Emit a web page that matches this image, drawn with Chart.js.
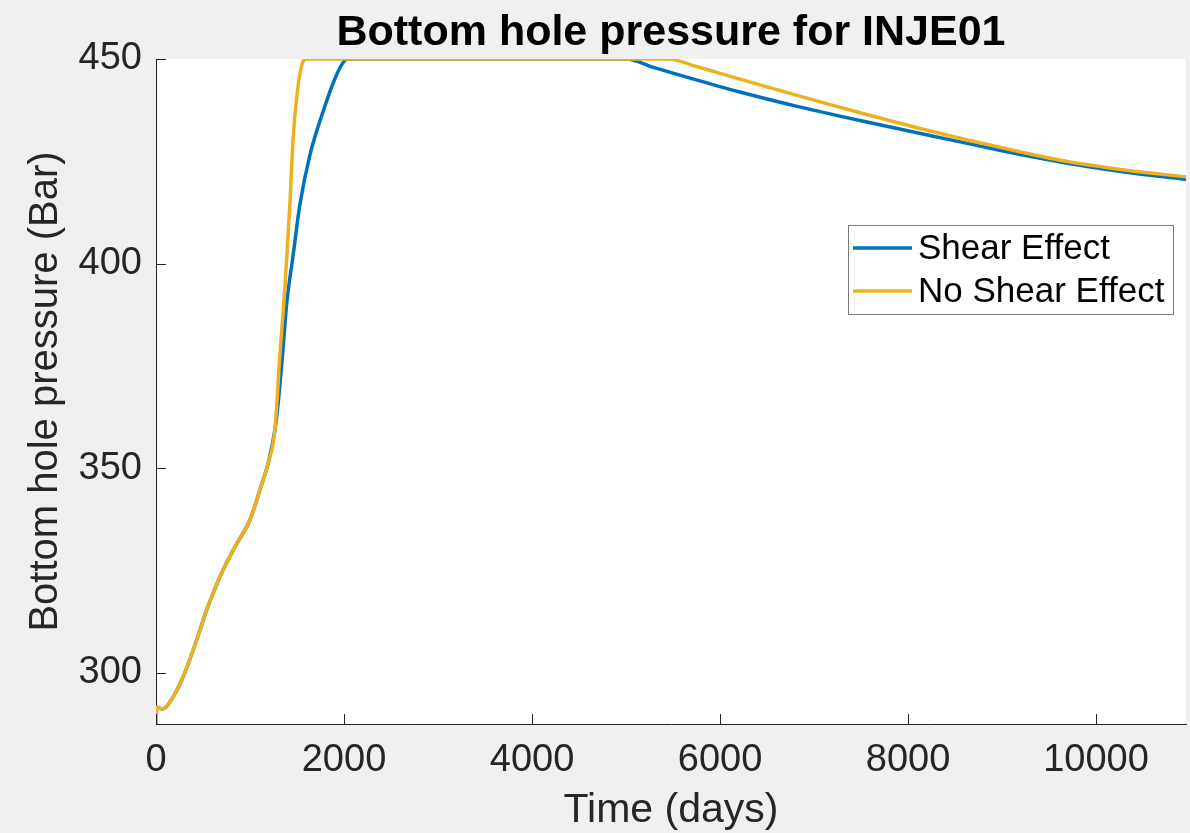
<!DOCTYPE html>
<html>
<head>
<meta charset="utf-8">
<title>Bottom hole pressure for INJE01</title>
<script src="https://cdn.jsdelivr.net/npm/chart.js@4.4.1/dist/chart.umd.min.js"></script>
<style>
  html, body { margin: 0; padding: 0; background: #f0f0f0; }
  #wrap { width: 1190px; height: 833px; }
</style>
</head>
<body>
<div id="wrap"><canvas id="bhp" width="1190" height="833"></canvas></div>
<script>
// Early build-up, identical for both runs
const sharedDays = [0, 8, 70, 184, 290, 396, 468, 539, 600, 680, 840, 1000, 1105, 1194, 1265];
const sharedBhp = [287.5, 291.6, 291.2, 294.2, 299.1, 305.6, 310.5, 315.4, 319.0, 323.5, 330.8, 337.4, 344.7, 351.3, 359.4];

// With shear effect
const shearDays = [1300, 1346, 1389, 1459, 1530, 1637, 1775, 1920, 2008, 2060, 3000, 4000, 5000, 5300, 5700, 6200, 6844, 7500, 8257, 9000, 9681, 10300, 10957];
const shearBhp = [366.0, 377.7, 389.9, 402.1, 414.3, 426.5, 437.0, 446.1, 449.6, 450, 450, 450, 450, 447.9, 445.2, 442.0, 438.3, 434.9, 431.2, 427.6, 424.6, 422.4, 420.6];

// Without shear effect
const noShearDays = [1318, 1371, 1424, 1459, 1509, 1562, 1601, 3000, 5460, 5700, 6000, 6500, 7056, 7600, 8257, 9000, 9681, 10300, 10957];
const noShearBhp = [377.7, 394.0, 414.3, 430.7, 443.0, 449.3, 450, 450, 450, 448.5, 446.5, 443.2, 439.6, 436.2, 432.3, 428.3, 425.0, 422.9, 421.2];

const xTicks = [0, 2000, 4000, 6000, 8000, 10000];
const yTicks = [300, 350, 400, 450];

const seriesLabels = ['Shear Effect', 'No Shear Effect'];
const seriesColors = ['#0072bd', '#edb120'];

const toPoints = (days, bhp) => days.map((d, i) => ({ x: d, y: bhp[i] }));

const axisColor = '#262626';
const fontFamily = '"Liberation Sans", Arial, Helvetica, sans-serif';

// MATLAB-like decorations: inward ticks, title, legend box
const matlabDecor = {
  id: 'matlabDecor',
  beforeDraw(chart) {
    const { ctx, chartArea: a } = chart;
    ctx.save();
    ctx.fillStyle = '#f0f0f0';
    ctx.fillRect(0, 0, chart.width, chart.height);
    ctx.fillStyle = '#ffffff';
    ctx.fillRect(a.left, a.top, a.right - a.left, a.bottom - a.top);
    ctx.restore();
  },
  afterDraw(chart) {
    const { ctx, chartArea: a, scales } = chart;
    ctx.save();

    // tick marks pointing into the axes
    ctx.strokeStyle = axisColor;
    ctx.lineWidth = 1;
    ctx.beginPath();
    xTicks.forEach(v => {
      const px = Math.round(scales.x.getPixelForValue(v)) + 0.5;
      ctx.moveTo(px, a.bottom);
      ctx.lineTo(px, a.bottom - 10);
    });
    yTicks.forEach(v => {
      const py = Math.round(scales.y.getPixelForValue(v)) + 0.5;
      ctx.moveTo(a.left, py);
      ctx.lineTo(a.left + 10, py);
    });
    ctx.stroke();

    // title
    ctx.fillStyle = '#000000';
    ctx.font = 'bold 43px ' + fontFamily;
    ctx.textAlign = 'center';
    ctx.textBaseline = 'middle';
    ctx.fillText('Bottom hole pressure for INJE01', (a.left + a.right) / 2, 33);

    // legend, in dataset order
    const bx = 848.5, by = 225.5, bw = 325, bh = 89;
    ctx.fillStyle = '#ffffff';
    ctx.fillRect(bx, by, bw, bh);
    ctx.strokeStyle = '#7a7a7a';
    ctx.strokeRect(bx, by, bw, bh);
    ctx.font = '35px ' + fontFamily;
    ctx.textAlign = 'left';
    chart.data.datasets.forEach((ds, i) => {
      const ly = 248 + i * 43;
      ctx.strokeStyle = ds.borderColor;
      ctx.lineWidth = 3.5;
      ctx.beginPath();
      ctx.moveTo(853, ly);
      ctx.lineTo(912, ly);
      ctx.stroke();
      ctx.fillStyle = '#000000';
      ctx.fillText(ds.label, 918, ly + 1);
    });
    ctx.restore();
  }
};

new Chart(document.getElementById('bhp'), {
  type: 'line',
  data: {
    datasets: [
      {
        label: seriesLabels[0],
        data: toPoints(sharedDays.concat(shearDays), sharedBhp.concat(shearBhp)),
        borderColor: seriesColors[0],
        borderWidth: 3.5,
        order: 2,
      },
      {
        // drawn last so it sits on top of the blue curve
        label: seriesLabels[1],
        data: toPoints(sharedDays.concat(noShearDays), sharedBhp.concat(noShearBhp)),
        borderColor: seriesColors[1],
        borderWidth: 3.5,
        order: 1,
      },
    ],
  },
  options: {
    responsive: false,
    devicePixelRatio: 1,
    animation: false,
    layout: { padding: { top: 59, right: 4, left: 0, bottom: 0 } },
    elements: {
      point: { radius: 0 },
      line: { cubicInterpolationMode: 'monotone', borderCapStyle: 'round', borderJoinStyle: 'round' },
    },
    plugins: {
      legend: { display: false },
      tooltip: { enabled: false },
    },
    scales: {
      x: {
        type: 'linear',
        min: 0,
        max: 10957,
        afterBuildTicks: s => { s.ticks = xTicks.map(v => ({ value: v })); },
        afterFit: s => { s.height = 109; },
        grid: { display: false, drawTicks: false },
        border: { display: true, color: axisColor, width: 1 },
        ticks: {
          color: axisColor,
          padding: 14,
          maxRotation: 0,
          callback: v => String(v),
          font: { family: fontFamily, size: 38 },
        },
        title: {
          display: true,
          text: 'Time (days)',
          color: axisColor,
          padding: { top: 0, bottom: 0 },
          font: { family: fontFamily, size: 41, lineHeight: 1.1 },
        },
      },
      y: {
        min: 287.5,
        max: 450,
        afterBuildTicks: s => { s.ticks = yTicks.map(v => ({ value: v })); },
        afterFit: s => { s.width = 156; },
        grid: { display: false, drawTicks: false },
        border: { display: true, color: axisColor, width: 1 },
        ticks: {
          color: axisColor,
          padding: 14,
          callback: v => String(v),
          font: { family: fontFamily, size: 38 },
        },
        title: {
          display: true,
          text: 'Bottom hole pressure (Bar)',
          color: axisColor,
          padding: { top: 24, bottom: 0 },
          font: { family: fontFamily, size: 40, lineHeight: 1.1 },
        },
      },
    },
  },
  plugins: [matlabDecor],
});
</script>
</body>
</html>
